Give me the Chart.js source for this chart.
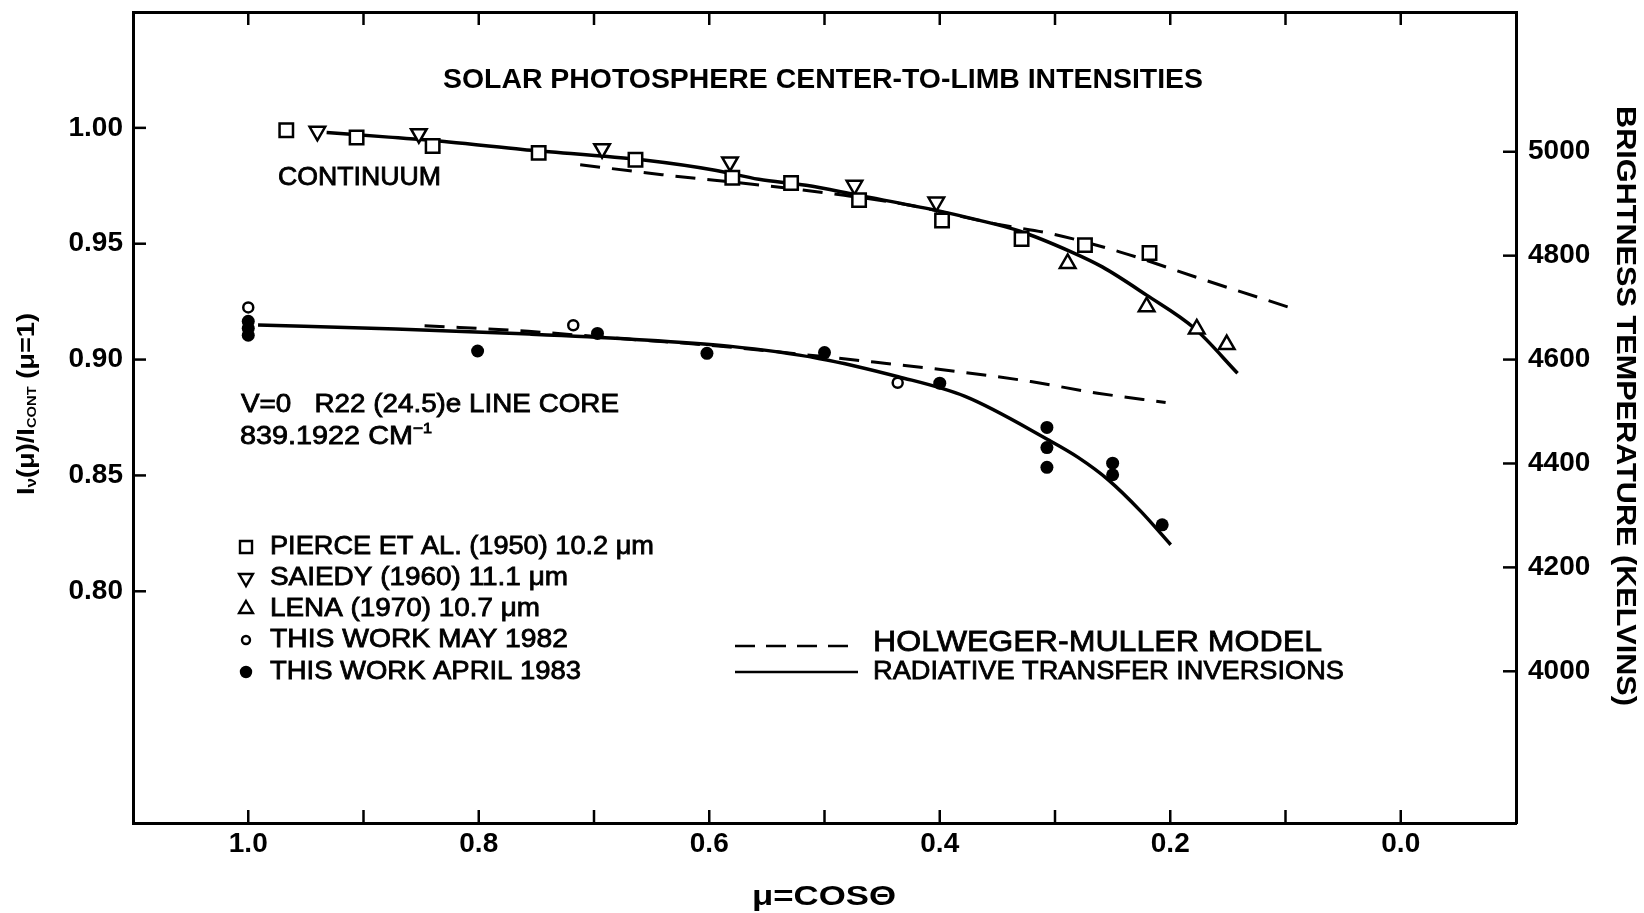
<!DOCTYPE html>
<html>
<head>
<meta charset="utf-8">
<script src="https://cdn.jsdelivr.net/npm/chart.js@4.4.0/dist/chart.umd.min.js"></script>
<style>
html,body{margin:0;padding:0;background:#fff;}
canvas{display:block;}
</style>
</head>
<body>
<canvas id="c" width="1644" height="913"></canvas>
<script>
const FONT = '"Liberation Sans", Arial, Helvetica, sans-serif';

// ---- axis ticks ----
const muTicks = [0.0, 0.1, 0.2, 0.3, 0.4, 0.5, 0.6, 0.7, 0.8, 0.9, 1.0];
const intensityTicks = [0.80, 0.85, 0.90, 0.95, 1.00];
const temperatureTicks = [4000, 4200, 4400, 4600, 4800, 5000];

// ---- measured points ----
const pierceMu = [0.967, 0.906, 0.840, 0.748, 0.664, 0.580, 0.529, 0.470, 0.398, 0.329, 0.274, 0.218];
const pierceI  = [0.999, 0.9958, 0.9922, 0.9892, 0.9862, 0.9785, 0.9762, 0.9688, 0.9600, 0.9520, 0.9494, 0.9460];

const saiedyMu = [0.940, 0.852, 0.693, 0.582, 0.474, 0.403];
const saiedyI  = [0.9985, 0.9975, 0.9910, 0.9853, 0.9752, 0.9680];

const lenaMu = [0.289, 0.2205, 0.177, 0.151];
const lenaI  = [0.9415, 0.9228, 0.9132, 0.9065];

const may82Mu = [1.0, 0.718, 0.4365];
const may82I  = [0.9225, 0.9148, 0.8900];

const apr83Mu = [1.0, 1.0, 1.0, 0.801, 0.697, 0.602, 0.500, 0.400, 0.307, 0.307, 0.307, 0.250, 0.250, 0.207];
const apr83I  = [0.9165, 0.9135, 0.9105, 0.9037, 0.9113, 0.9027, 0.9030, 0.8898, 0.8707, 0.8620, 0.8535, 0.8553, 0.8503, 0.8287];

// ---- model curves ----
const hmContMu = [0.712, 0.641, 0.550, 0.483, 0.426, 0.349, 0.304, 0.244, 0.170, 0.094];
const hmContI  = [0.9841, 0.9798, 0.9750, 0.9709, 0.9666, 0.9583, 0.9544, 0.9465, 0.9343, 0.9221];

const rtContMu = [0.932, 0.878, 0.826, 0.762, 0.655, 0.595, 0.557, 0.516, 0.471, 0.404, 0.370, 0.331, 0.286, 0.259, 0.2205, 0.179, 0.1416];
const rtContI  = [0.9980, 0.9960, 0.9939, 0.9907, 0.9860, 0.9817, 0.9778, 0.9752, 0.9709, 0.9645, 0.9606, 0.9555, 0.9465, 0.9400, 0.9278, 0.9135, 0.8941];

const hmCoreMu = [0.847, 0.757, 0.680, 0.600, 0.490, 0.448, 0.384, 0.321, 0.263, 0.204];
const hmCoreI  = [0.9146, 0.9122, 0.9092, 0.9062, 0.9007, 0.8984, 0.8948, 0.8905, 0.8855, 0.8815];

const rtCoreMu = [0.9915, 0.872, 0.756, 0.670, 0.583, 0.505, 0.436, 0.378, 0.306, 0.280, 0.254, 0.2255, 0.1996];
const rtCoreI  = [0.9149, 0.9132, 0.9110, 0.9089, 0.9058, 0.9005, 0.8926, 0.8841, 0.8654, 0.8578, 0.8482, 0.8345, 0.8201];

// ---- labels ----
const titleText = 'SOLAR PHOTOSPHERE CENTER-TO-LIMB INTENSITIES';
const legendLabels = [
  'PIERCE ET AL. (1950) 10.2 \u03BCm',
  'SAIEDY (1960) 11.1 \u03BCm',
  'LENA (1970) 10.7 \u03BCm',
  'THIS WORK MAY 1982',
  'THIS WORK APRIL 1983'
];
const lineLabels = ['HOLWEGER-MULLER MODEL', 'RADIATIVE TRANSFER INVERSIONS'];

const pts = (xs, ys) => xs.map((x, i) => ({x: x, y: ys[i]}));

function fitText(ctx, str, x, y, size, weight, width, align, rot) {
  ctx.save();
  ctx.font = weight + ' ' + size + 'px ' + FONT;
  const w = ctx.measureText(str).width;
  ctx.translate(x, y);
  if (rot) ctx.rotate(rot);
  if (width) ctx.scale(width / w, 1);
  ctx.textBaseline = 'middle';
  ctx.textAlign = align || 'left';
  ctx.fillStyle = '#000';
  ctx.fillText(str, 0, 0);
  if (weight === 'normal') {
    ctx.strokeStyle = '#000';
    ctx.lineWidth = 0.8;
    ctx.strokeText(str, 0, 0);
  }
  ctx.restore();
}

function drawRuns(ctx, runs, x, y, width, align, rot, weight) {
  ctx.save();
  let total = 0;
  runs.forEach(r => {
    ctx.font = weight + ' ' + r.s + 'px ' + FONT;
    r.w = ctx.measureText(r.t).width;
    total += r.w;
  });
  ctx.translate(x, y);
  if (rot) ctx.rotate(rot);
  ctx.scale(width / total, 1);
  let cx = align === 'center' ? -total / 2 : 0;
  ctx.textBaseline = 'middle';
  ctx.textAlign = 'left';
  ctx.fillStyle = '#000';
  ctx.strokeStyle = '#000';
  ctx.lineWidth = 0.8;
  runs.forEach(r => {
    ctx.font = weight + ' ' + r.s + 'px ' + FONT;
    ctx.fillText(r.t, cx, r.dy || 0);
    if (weight === 'normal') ctx.strokeText(r.t, cx, r.dy || 0);
    cx += r.w;
  });
  ctx.restore();
}

const inwardTicks = {
  id: 'inwardTicks',
  afterDatasetsDraw(chart) {
    const {ctx, chartArea: a, scales} = chart;
    const L = 13;
    ctx.save();
    ctx.strokeStyle = '#000';
    ctx.lineWidth = 2.5;
    const seg = (x1, y1, x2, y2) => { ctx.beginPath(); ctx.moveTo(x1, y1); ctx.lineTo(x2, y2); ctx.stroke(); };
    scales.x.ticks.forEach(t => {
      const p = scales.x.getPixelForValue(t.value);
      seg(p, a.bottom, p, a.bottom - L);
      seg(p, a.top, p, a.top + L);
    });
    scales.y.ticks.forEach(t => {
      const p = scales.y.getPixelForValue(t.value);
      seg(a.left, p, a.left + L, p);
    });
    scales.y2.ticks.forEach(t => {
      const p = scales.y2.getPixelForValue(t.value);
      seg(a.right, p, a.right - L, p);
    });
    ctx.restore();
  }
};

const annotations = {
  id: 'annotations',
  afterDraw(chart) {
    const ctx = chart.ctx;
    fitText(ctx, titleText, 443, 81, 27, 'bold', 760);
    fitText(ctx, 'CONTINUUM', 278, 178, 25, 'normal', 163);
    fitText(ctx, 'V=0   R22 (24.5)e LINE CORE', 241, 405, 25, 'normal', 378);
    drawRuns(ctx, [{t: '839.1922 CM', s: 25}, {t: '\u2212', s: 15, dy: -8}, {t: '1', s: 14, dy: -8}], 240, 437, 192, 'left', 0, 'normal');

    // symbol legend
    const legY = [547, 578, 609, 640, 672];
    const widths = [384, 298, 270, 298, 311];
    const styles = [
      {s: 'rect', r: 8.5, fill: '#fff', rot: 0},
      {s: 'triangle', r: 8, fill: '#fff', rot: 180},
      {s: 'triangle', r: 8, fill: '#fff', rot: 0},
      {s: 'circle', r: 4, fill: '#fff', rot: 0},
      {s: 'circle', r: 5, fill: '#000', rot: 0}
    ];
    legendLabels.forEach((lab, i) => {
      ctx.save();
      ctx.strokeStyle = '#000';
      ctx.fillStyle = styles[i].fill;
      ctx.lineWidth = 2.4;
      Chart.helpers.drawPoint(ctx, {pointStyle: styles[i].s, radius: styles[i].r, rotation: styles[i].rot, borderWidth: 2.4}, 246, legY[i]);
      ctx.restore();
      fitText(ctx, lab, 270, legY[i], 25, 'normal', widths[i]);
    });

    // line legend
    ctx.save();
    ctx.strokeStyle = '#000';
    ctx.lineWidth = 2.6;
    ctx.setLineDash([20, 11]);
    ctx.beginPath(); ctx.moveTo(735, 646); ctx.lineTo(858, 646); ctx.stroke();
    ctx.setLineDash([]);
    ctx.beginPath(); ctx.moveTo(735, 672); ctx.lineTo(858, 672); ctx.stroke();
    ctx.restore();
    fitText(ctx, lineLabels[0], 873, 643, 30, 'normal', 449);
    fitText(ctx, lineLabels[1], 873, 672, 26, 'normal', 471);

    // axis titles
    fitText(ctx, '\u03BC=COS\u0398', 752, 897, 28, 'bold', 144);
    fitText(ctx, 'BRIGHTNESS TEMPERATURE (KELVINS)', 1625, 406, 28, 'bold', 600, 'center', Math.PI / 2);
    drawRuns(ctx, [
      {t: 'I', s: 24}, {t: '\u03BD', s: 15, dy: 5}, {t: '(\u03BC)/I', s: 24},
      {t: 'CONT', s: 13, dy: 5}, {t: ' (\u03BC=1)', s: 24}
    ], 27, 404, 182, 'center', -Math.PI / 2, 'bold');
  }
};

const markerBase = {showLine: false, borderColor: '#000', pointBorderColor: '#000', order: 0};
const lineBase = {showLine: true, pointRadius: 0, borderColor: '#000', fill: false, cubicInterpolationMode: 'monotone', order: 1};

const noPad = s => { s.paddingTop = 0; s.paddingBottom = 0; s.paddingLeft = 0; s.paddingRight = 0; };

new Chart(document.getElementById('c').getContext('2d'), {
  type: 'scatter',
  data: {
    datasets: [
      Object.assign({}, markerBase, {label: legendLabels[0], data: pts(pierceMu, pierceI), pointStyle: 'rect', pointRadius: 9.5, pointBorderWidth: 2.5, pointBackgroundColor: '#fff'}),
      Object.assign({}, markerBase, {label: legendLabels[1], data: pts(saiedyMu, saiedyI), pointStyle: 'triangle', pointRotation: 180, pointRadius: 9, pointBorderWidth: 2.5, pointBackgroundColor: '#fff'}),
      Object.assign({}, markerBase, {label: legendLabels[2], data: pts(lenaMu, lenaI), pointStyle: 'triangle', pointRadius: 9, pointBorderWidth: 2.5, pointBackgroundColor: '#fff'}),
      Object.assign({}, markerBase, {label: legendLabels[3], data: pts(may82Mu, may82I), pointStyle: 'circle', pointRadius: 5, pointBorderWidth: 2.5, pointBackgroundColor: '#fff'}),
      Object.assign({}, markerBase, {label: legendLabels[4], data: pts(apr83Mu, apr83I), pointStyle: 'circle', pointRadius: 6.5, pointBorderWidth: 0, pointBackgroundColor: '#000'}),
      Object.assign({}, lineBase, {label: 'HM continuum', data: pts(hmContMu, hmContI), borderWidth: 3, borderDash: [20, 12]}),
      Object.assign({}, lineBase, {label: 'RT continuum', data: pts(rtContMu, rtContI), borderWidth: 3.5}),
      Object.assign({}, lineBase, {label: 'HM line core', data: pts(hmCoreMu, hmCoreI), borderWidth: 3, borderDash: [20, 12]}),
      Object.assign({}, lineBase, {label: 'RT line core', data: pts(rtCoreMu, rtCoreI), borderWidth: 3.5})
    ]
  },
  options: {
    responsive: false,
    animation: false,
    devicePixelRatio: 1,
    layout: {padding: 0},
    plugins: {legend: {display: false}, tooltip: {enabled: false}, title: {display: false}},
    scales: {
      x: {
        type: 'linear', position: 'bottom', reverse: true, min: -0.1, max: 1.1,
        afterBuildTicks: s => { s.ticks = muTicks.map(v => ({value: v})); },
        afterFit: s => { s.height = 90; noPad(s); },
        ticks: {
          autoSkip: false, maxRotation: 0, padding: 4, color: '#000',
          font: {family: FONT, size: 28, weight: 'bold'},
          callback: v => (Math.round(v * 10) % 2 === 0 ? v.toFixed(1) : '')
        },
        grid: {display: true, drawOnChartArea: false, drawTicks: false},
        border: {display: true, color: '#000', width: 3}
      },
      x2: {
        type: 'linear', position: 'top', reverse: true, min: -0.1, max: 1.1,
        afterBuildTicks: s => { s.ticks = muTicks.map(v => ({value: v})); },
        afterFit: s => { s.height = 10; noPad(s); },
        ticks: {display: false},
        grid: {display: true, drawOnChartArea: false, drawTicks: false},
        border: {display: true, color: '#000', width: 3}
      },
      y: {
        type: 'linear', position: 'left', min: 0.70, max: 1.05,
        afterBuildTicks: s => { s.ticks = intensityTicks.map(v => ({value: v})); },
        afterFit: s => { s.width = 133; noPad(s); },
        ticks: {
          padding: 10, color: '#000',
          font: {family: FONT, size: 28, weight: 'bold'},
          callback: v => v.toFixed(2)
        },
        grid: {display: true, drawOnChartArea: false, drawTicks: false},
        border: {display: true, color: '#000', width: 3}
      },
      y2: {
        type: 'linear', position: 'right', min: 3708, max: 5269,
        afterBuildTicks: s => { s.ticks = temperatureTicks.map(v => ({value: v})); },
        afterFit: s => { s.width = 128; noPad(s); },
        ticks: {
          padding: 12, color: '#000',
          font: {family: FONT, size: 28, weight: 'bold'},
          callback: v => String(v)
        },
        grid: {display: true, drawOnChartArea: false, drawTicks: false},
        border: {display: true, color: '#000', width: 3}
      }
    }
  },
  plugins: [inwardTicks, annotations]
});
</script>
</body>
</html>
